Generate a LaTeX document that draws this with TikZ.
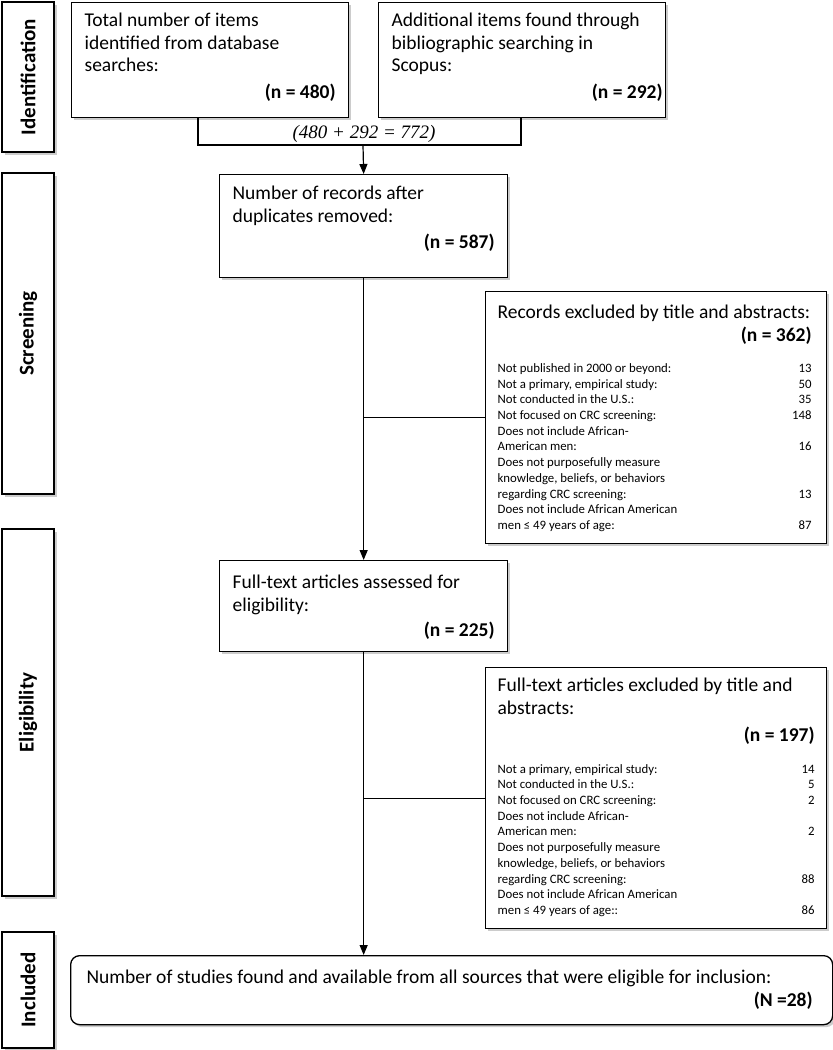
\documentclass[tikz,border=0pt]{standalone}
\usepackage{fontspec}
\usepackage{graphicx}
\setmainfont{Carlito}
\newfontfamily\sumfont{Liberation Serif}
\usetikzlibrary{arrows.meta,shadows,positioning}
\newcommand{\mainsize}{\fontsize{19.5}{22.5}\selectfont}
\newcommand{\listsize}{\fontsize{12.8}{15.7}\selectfont\spaceskip=0pt\xspaceskip=0pt\relax}
\newcommand{\cnt}[2][0pt]{\makebox[\hsize][r]{\textbf{#2}\kern#1}}

\begin{document}
\begin{tikzpicture}[x=1pt, y=-1pt,
  shadowed/.style={drop shadow={shadow xshift=2.5pt, shadow yshift=-2.5pt, opacity=0.4}},
  box/.style={draw, line width=1.3pt, fill=white, shadowed, inner xsep=13pt, inner ysep=0pt,
    align=flush left, anchor=north west, font=\mainsize,
    execute at begin node={\spaceskip=0pt\xspaceskip=0pt\relax}},
  phase/.style={draw, line width=1.3pt, fill=white, shadowed, minimum width=52pt, inner sep=0pt,
    font=\fontsize{21}{24}\selectfont\bfseries},
  link/.style={line width=1.2pt},
  arr/.style={link, -{Triangle[length=10pt,width=8pt]}}]
  \useasboundingbox (0,0) rectangle (833,1050);

  % phases down the left side
  \node[phase, minimum height=150pt] (ident) at (28,77) {\rotatebox{90}{Identification}};
  \node[phase, minimum height=321pt] (screen) at (28,333.5) {\rotatebox{90}{Screening}};
  \node[phase, minimum height=367pt] (elig) at (28,712.5) {\rotatebox{90}{Eligibility}};
  \node[phase, minimum height=116pt] (incl) at (28,990) {\rotatebox{90}{Included}};

  % identification
  \node[box, text width=251pt, text height=24pt, text depth=91pt] (dbsearch) at (71,2)
    {Total number of items\\identified from database\\searches:\\[4.5pt]\cnt{(n = 480)}};
  \node[box, text width=261pt, text height=24pt, text depth=91pt] (scopus) at (378,2)
    {Additional items found through\\bibliographic searching in\\Scopus:\\[4.5pt]\cnt[-10pt]{(n = 292)}};
  \node[font=\sumfont\itshape\fontsize{19}{20}\selectfont] (sum) at (364,134) {(480 + 292 = 772)};

  % screening
  \node[box, text width=262pt, text height=25pt, text depth=78pt] (dedup) at (219,174)
    {Number of records after\\duplicates removed:\\[4pt]\cnt{(n = 587)}};
  \node[box, inner xsep=12pt, text width=317pt, text height=27pt, text depth=225pt] (recexcl) at (485,291)
    {Records excluded by title and abstracts:\\\cnt[3pt]{(n = 362)}\par\vspace{15.6pt}
     \listsize\rightskip=3pt plus 1fil\relax
     Not published in 2000 or beyond:\hfill 13\\
     Not a primary, empirical study:\hfill 50\\
     Not conducted in the U.S.:\hfill 35\\
     Not focused on CRC screening:\hfill 148\\
     Does not include African-\\
     American men:\hfill 16\\
     Does not purposefully measure\\
     knowledge, beliefs, or behaviors\\
     regarding CRC screening:\hfill 13\\
     Does not include African American\\
     men \smash{≤} 49 years of age:\hfill 87\par};

  % eligibility
  \node[box, text width=262pt, text height=28pt, text depth=63pt] (fulltext) at (219,560)
    {Full-text articles assessed for\\eligibility:\\[2.5pt]\cnt{(n = 225)}};
  \node[box, inner xsep=12pt, text width=317pt, text height=24pt, text depth=237pt] (ftexcl) at (485,667)
    {Full-text articles excluded by title and\\abstracts:\\[4.5pt]\cnt{(n = 197)}\par\vspace{16.3pt}
     \listsize Not a primary, empirical study:\hfill 14\\
     Not conducted in the U.S.:\hfill 5\\
     Not focused on CRC screening:\hfill 2\\
     Does not include African-\\
     American men:\hfill 2\\
     Does not purposefully measure\\
     knowledge, beliefs, or behaviors\\
     regarding CRC screening:\hfill 88\\
     Does not include African American\\
     men \smash{≤} 49 years of age::\hfill 86\par};

  % included
  \node[box, rounded corners=9pt, inner xsep=16pt, text width=730pt, text height=28pt, text depth=41pt] (studies) at (70,955)
    {Number of studies found and available from all sources that were eligible for inclusion:\\\cnt[4pt]{(N =28)}};

  % connectors
  \coordinate (brl) at (198,145);
  \coordinate (brr) at (521,145);
  \coordinate (brm) at (363,145);
  \draw[link] (brl |- dbsearch.south) -- (brl) -- (brr) -- (brr |- scopus.south);
  \draw[arr] (brm) -- (dedup.north);
  \draw[arr] (dedup.south) -- (fulltext.north);
  \draw[link] (dedup.south |- recexcl.west) -- (recexcl.west);
  \draw[arr] (fulltext.south) -- (fulltext.south |- studies.north);
  \draw[link] (fulltext.south |- ftexcl.west) -- (ftexcl.west);
\end{tikzpicture}
\end{document}
